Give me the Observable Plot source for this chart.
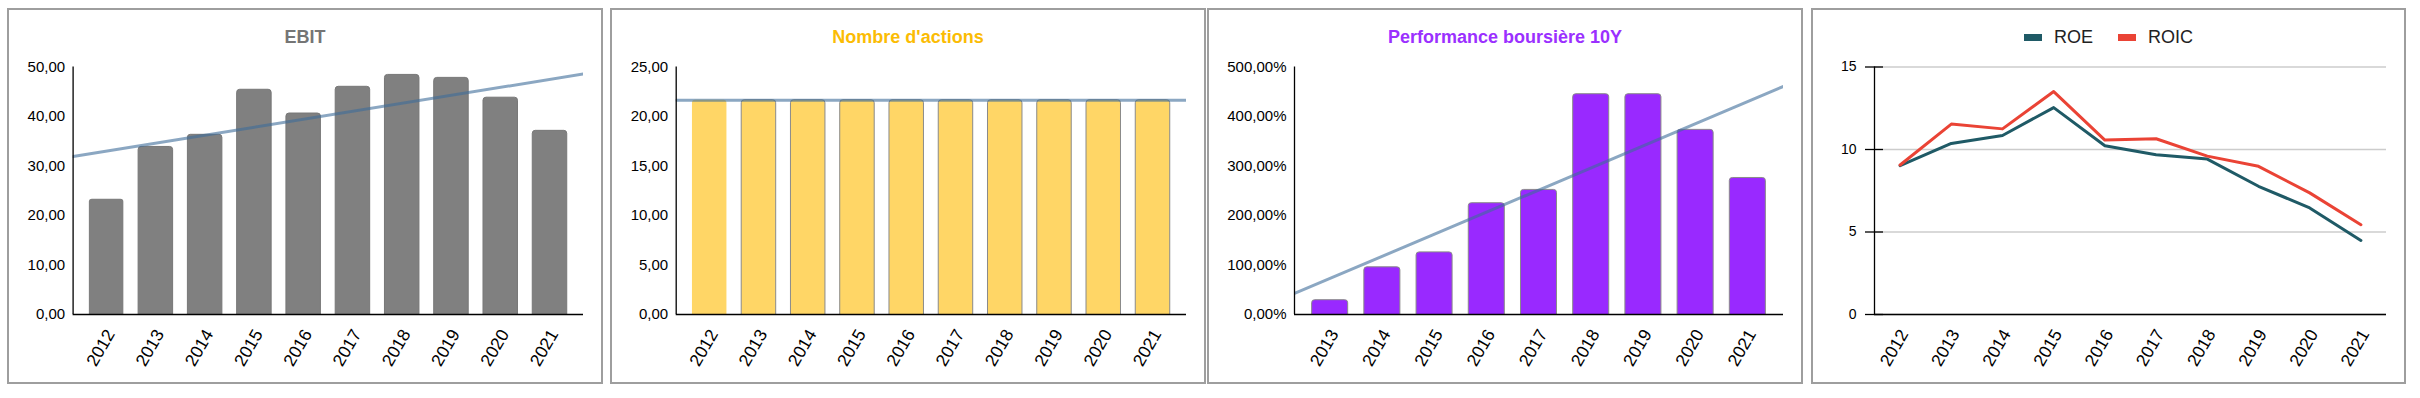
<!DOCTYPE html>
<html>
<head>
<meta charset="utf-8">
<script src="https://cdn.jsdelivr.net/npm/d3@7"></script>
<script src="https://cdn.jsdelivr.net/npm/@observablehq/plot@0.6"></script>
<style>
  html, body { margin: 0; padding: 0; background: #fff; }
  body { width: 2420px; height: 398px; position: relative; overflow: hidden; font-family: "Liberation Sans", Arial, sans-serif; }
  .panel { position: absolute; border: 2px solid #9e9e9e; box-sizing: border-box; z-index: 3; pointer-events: none; background: transparent; }
  .title { position: absolute; font-weight: bold; font-size: 18px; line-height: 20px; text-align: center; white-space: nowrap; z-index: 2; }
  .chart { position: absolute; z-index: 1; }
  .legend { position: absolute; display: flex; justify-content: center; align-items: center; height: 20px; font-size: 18px; line-height: 20px; color: #222; z-index: 2; }
  .legend .sw { display: inline-block; width: 18px; height: 7px; margin-right: 12px; }
  .legend .lb { margin-right: 25px; }
  .legend .lb:last-child { margin-right: 0; }
</style>
</head>
<body>
<script>
// ---------- DATA ----------
const years = [2012, 2013, 2014, 2015, 2016, 2017, 2018, 2019, 2020, 2021];
const ebit = [23.3, 33.85, 36.3, 45.4, 40.6, 46.0, 48.4, 47.8, 43.8, 37.1];
const actions = [21.64, 21.64, 21.64, 21.64, 21.64, 21.64, 21.64, 21.64, 21.64, 21.64];
const perfYears = [2013, 2014, 2015, 2016, 2017, 2018, 2019, 2020, 2021];
const perf = [28.9, 95.3, 125.5, 224.8, 251.7, 445, 445, 373, 275.8];
const roe = [9.02, 10.37, 10.85, 12.54, 10.23, 9.68, 9.42, 7.77, 6.46, 4.49];
const roic = [9.06, 11.54, 11.25, 13.51, 10.57, 10.65, 9.60, 8.98, 7.37, 5.44];
const ebitTicks = [0, 10, 20, 30, 40, 50];
const actionsTicks = [0, 5, 10, 15, 20, 25];
const perfTicks = [0, 100, 200, 300, 400, 500];
const ratioTicks = [0, 5, 10, 15];
const titles = ["EBIT", "Nombre d'actions", "Performance boursière 10Y"];
const seriesNames = ["ROE", "ROIC"];

// ---------- LAYOUT / STYLE ----------
const font = '"Liberation Sans", Arial, sans-serif';
const trendColor = "#3d6d99";
const boxes = [
  {left: 7, top: 8, width: 596, height: 376},
  {left: 610, top: 8, width: 596, height: 376},
  {left: 1207, top: 8, width: 596, height: 376},
  {left: 1811, top: 8, width: 595, height: 376}
];
const plotTop = 66.5, plotBottom = 314;

function fmtFr(d) { return d.toFixed(2).replace(".", ","); }

function addBox(b) {
  const d = document.createElement("div");
  d.className = "panel";
  Object.assign(d.style, {left: b.left + "px", top: b.top + "px", width: b.width + "px", height: b.height + "px"});
  document.body.appendChild(d);
}
function addTitle(b, text, color) {
  const d = document.createElement("div");
  d.className = "title";
  d.textContent = text;
  Object.assign(d.style, {left: b.left + "px", top: "27px", width: b.width + "px", color});
  document.body.appendChild(d);
}
function place(svg, b) {
  svg.classList.add("chart");
  svg.style.left = b.left + "px";
  svg.style.top = b.top + "px";
  document.body.appendChild(svg);
}

function xAxis(ticks) {
  return Plot.axisX({ticks, tickFormat: d => String(d), tickRotate: -60, tickSize: 0, tickPadding: 16.5, dx: 4,
    textAnchor: "end", lineAnchor: "middle", fontSize: 17.5, fill: "#000", label: null});
}

function barChart({yrs, values, yTicks, yFmt, fill, stroke, firstNoStroke, box, plotLeft, plotRight, inner, outer}) {
  const data = yrs.map((year, i) => ({year, value: values[i], i}));
  const half = (1 - inner) / 2;
  const xDomain = [yrs[0] - half - outer, yrs[yrs.length - 1] + half + outer];
  const mx = d3.mean(data, d => d.year), my = d3.mean(data, d => d.value);
  const sxx = d3.sum(data, d => (d.year - mx) ** 2);
  const slope = d3.sum(data, d => (d.year - mx) * (d.value - my)) / sxx;
  const trend = xDomain.map(x => ({x, y: my + slope * (x - mx)}));
  const yMax = yTicks[yTicks.length - 1];
  const rectOpts = {x1: d => d.year - half, x2: d => d.year + half, y1: 0, y2: "value", fill, rx: 3, insetBottom: -6, clip: true};
  return Plot.plot({
    width: box.width, height: box.height,
    marginLeft: plotLeft - box.left, marginRight: box.left + box.width - plotRight,
    marginTop: plotTop - box.top, marginBottom: box.top + box.height - plotBottom,
    style: {background: "transparent", fontFamily: font, fontSize: "15px", color: "#000", overflow: "visible"},
    x: {type: "linear", domain: xDomain, label: null},
    y: {domain: [0, yMax], label: null},
    marks: [
      Plot.rectY(data, {...rectOpts, stroke: firstNoStroke ? "none" : stroke, filter: d => d.i === 0}),
      Plot.rectY(data, {...rectOpts, stroke, strokeWidth: 1, filter: d => d.i > 0}),
      Plot.line(trend, {x: "x", y: "y", stroke: trendColor, strokeOpacity: 0.6, strokeWidth: 3, clip: true}),
      Plot.ruleY([0], {stroke: "#000", strokeWidth: 1.3}),
      Plot.ruleX([xDomain[0]], {y1: 0, y2: yMax, stroke: "#000", strokeWidth: 1.3}),
      Plot.axisY({ticks: yTicks, tickFormat: yFmt, tickSize: 0, tickPadding: 8, fontSize: 15, fill: "#000", label: null}),
      xAxis(yrs)
    ]
  });
}

boxes.forEach(addBox);

addTitle(boxes[0], titles[0], "#757575");
place(barChart({yrs: years, values: ebit, yTicks: ebitTicks, yFmt: fmtFr, fill: "#808080", stroke: "#777", firstNoStroke: true,
  box: boxes[0], plotLeft: 72.6, plotRight: 583, inner: 0.3, outer: 0.33}), boxes[0]);

addTitle(boxes[1], titles[1], "#fbbc04");
place(barChart({yrs: years, values: actions, yTicks: actionsTicks, yFmt: fmtFr, fill: "#ffd666", stroke: "#8a8a8a", firstNoStroke: true,
  box: boxes[1], plotLeft: 675.7, plotRight: 1186, inner: 0.3, outer: 0.33}), boxes[1]);

addTitle(boxes[2], titles[2], "#9b30ff");
place(barChart({yrs: perfYears, values: perf, yTicks: perfTicks, yFmt: d => fmtFr(d) + "%", fill: "#9929ff", stroke: "#8a8a8a", firstNoStroke: false,
  box: boxes[2], plotLeft: 1294, plotRight: 1783, inner: 0.31, outer: 0.338}), boxes[2]);

// ---------- ROE / ROIC ----------
(function () {
  const b = boxes[3];
  const plotLeft = 1874, plotRight = 2386;
  const colors = ["#1f5a66", "#ea4335"];
  const series = [roe, roic];
  const data = [];
  series.forEach((vals, s) => years.forEach((year, i) => data.push({series: seriesNames[s], year, value: vals[i]})));
  const xDomain = [years[0] - 0.5, years[years.length - 1] + 0.5];
  const yMax = ratioTicks[ratioTicks.length - 1];
  const frameW = plotRight - plotLeft;
  const svg = Plot.plot({
    width: b.width, height: b.height,
    marginLeft: plotLeft - b.left, marginRight: b.left + b.width - plotRight,
    marginTop: plotTop - b.top, marginBottom: b.top + b.height - plotBottom,
    style: {background: "transparent", fontFamily: font, fontSize: "14px", color: "#000", overflow: "visible"},
    x: {type: "linear", domain: xDomain, label: null},
    y: {domain: [0, yMax], label: null},
    marks: [
      Plot.gridY({ticks: ratioTicks, stroke: "#cccccc", strokeOpacity: 1, strokeWidth: 1.3}),
      Plot.ruleY([0], {stroke: "#000", strokeWidth: 1.3}),
      Plot.ruleX([xDomain[0]], {y1: 0, y2: yMax, stroke: "#000", strokeWidth: 1.3}),
      Plot.tickY(ratioTicks, {y: d => d, dx: -9, insetRight: frameW - 18, stroke: "#000", strokeWidth: 1.3}),
      ...seriesNames.map((name, s) => Plot.line(data.filter(d => d.series === name), {x: "year", y: "value", stroke: colors[s], strokeWidth: 3})),
      Plot.axisY({ticks: ratioTicks, tickFormat: d => String(d), tickSize: 0, tickPadding: 18, fontSize: 14, fill: "#000", label: null}),
      xAxis(years)
    ]
  });
  place(svg, b);
  const lg = document.createElement("div");
  lg.className = "legend";
  Object.assign(lg.style, {left: b.left + "px", top: "27px", width: b.width + "px"});
  seriesNames.forEach((name, s) => {
    const sw = document.createElement("span");
    sw.className = "sw";
    sw.style.background = colors[s];
    const lb = document.createElement("span");
    lb.className = "lb";
    lb.textContent = name;
    lg.appendChild(sw);
    lg.appendChild(lb);
  });
  document.body.appendChild(lg);
})();
</script>
</body>
</html>
